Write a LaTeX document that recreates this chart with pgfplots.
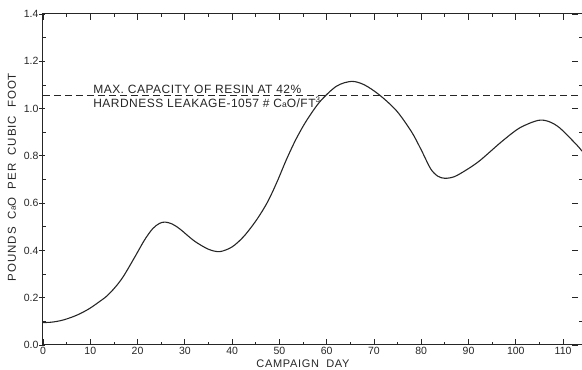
\documentclass[border=0pt]{standalone}
\usepackage{pgfplots}
\pgfplotsset{compat=1.18}
\usepackage{fontspec}
\setmainfont{Liberation Sans}
\begin{document}
\begin{tikzpicture}
\begin{axis}[
  name=ax,
  scale only axis,
  width=539pt, height=331pt,
  xmin=0, xmax=114, ymin=0, ymax=1.4,
  xtick={0,10,...,110},
  ytick={0,0.2,...,1.4},
  minor x tick num=1,
  minor y tick num=1,
  tick align=inside,
  major tick length=6pt,
  minor tick length=3pt,
  major y tick style={xshift=-4pt},
  axis line style={line width=1pt, black!85},
  every tick/.style={line width=0.8pt, black!85},
  /pgf/number format/assume math mode=true,
  tick label style={font=\fontsize{10.5}{12}\selectfont, black!85},
  yticklabel style={/pgf/number format/fixed,/pgf/number format/fixed zerofill,/pgf/number format/precision=1, xshift=-1pt},
  xticklabel style={yshift=1pt},
  clip=false,
]
\addplot[black!85, line width=1pt, dash pattern=on 7pt off 4pt] coordinates {(0,1.057) (114,1.057)};
\addplot[black!85, line width=1.1pt, smooth] coordinates {
(0,0.095) (1.5,0.096) (3,0.1) (4.5,0.107) (6.4,0.12) (8,0.134) (9.9,0.155) (11.7,0.18)
(13.5,0.207) (15.3,0.245) (17,0.29) (19.5,0.375)
(21.5,0.445) (23.2,0.492) (24.6,0.514) (25.8,0.52) (27.3,0.512) (29,0.49) (32,0.44) (35,0.405) (37.4,0.395)
(40,0.415) (42.5,0.46) (45.2,0.53) (47.5,0.605) (49.5,0.69) (51.5,0.785) (53.5,0.87) (55.7,0.948) (58.6,1.03)
(62.1,1.095) (65.3,1.115) (68,1.10) (71.2,1.057) (74.8,0.99) (78,0.9) (80,0.825)
(82,0.745) (83.5,0.714) (85,0.705) (87,0.712) (89.5,0.74) (92.4,0.78) (97,0.86) (100.8,0.918) (104.7,0.95)
(107,0.945) (109.3,0.918) (112.9,0.846) (114,0.82)
};
\node[anchor=south west, inner sep=0pt, font=\fontsize{12}{13}\selectfont\addfontfeatures{LetterSpace=4}, black!85] at (axis cs:10.6,1.057) [yshift=1.5pt] {MAX. CAPACITY OF RESIN AT 42\%};
\node[anchor=north west, inner sep=0pt, font=\fontsize{12}{13}\selectfont\addfontfeatures{LetterSpace=4}, black!85] at (axis cs:10.6,1.057) [yshift=-2pt] {HARDNESS LEAKAGE-1057 \# C{\fontsize{8.5}{9}\selectfont a}O/FT\textsuperscript{3}};
\end{axis}
\node[rotate=90, font=\fontsize{11.5}{12}\selectfont\addfontfeatures{LetterSpace=8}, black!85] at ([shift={(-31pt,168pt)}]ax.south west) {POUNDS\ \ C{\fontsize{8}{8}\selectfont a}O\ \ PER\ \ CUBIC\ \ FOOT};
\node[font=\fontsize{11}{12}\selectfont\addfontfeatures{LetterSpace=6}, black!85] at ([shift={(260pt,-19pt)}]ax.south west) {CAMPAIGN\ \ DAY};
\pgfresetboundingbox
\path[use as bounding box] ([shift={(-43pt,-25pt)}]ax.south west) rectangle ([shift={(0pt,14pt)}]ax.north east);
\end{tikzpicture}
\end{document}
